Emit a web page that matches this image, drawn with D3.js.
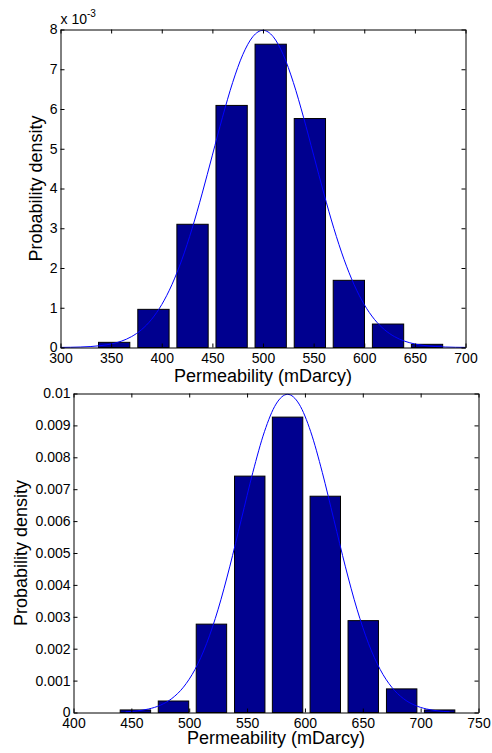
<!DOCTYPE html>
<html><head><meta charset="utf-8">
<script src="https://cdn.jsdelivr.net/npm/d3@7"></script>
<style>
body{margin:0;background:#fff;}
svg text{font-family:Arial,"Liberation Sans",Helvetica,sans-serif;fill:#000;}
</style>
</head><body>
<svg id="chart" width="492" height="753"></svg>
<script>
// ---------- Panel 1 data ----------
const binCenters1 = [353, 391.8, 430.4, 469, 507.6, 546.3, 584.8, 623.5, 662];
const density1 = [0.00013, 0.00096, 0.00310, 0.00609, 0.00763, 0.00576, 0.00169, 0.00059, 0.00008];
const curveX1 = [300,310,320,330,340,350,360,370,380,390,400,410,420,430,440,450,460,470,480,490,500,
                 510,520,530,540,550,560,570,580,590,600,610,620,630,640,650,660,670,680,690,700];
const curveY1 = [0.0000027,0.0000058,0.0000122,0.0000246,0.0000477,0.0000886,0.0001583,0.0002717,0.0004479,0.0007095,0.001080,
                 0.001579,0.002218,0.002995,0.003884,0.004839,0.005794,0.006665,0.007366,0.007821,0.007979,
                 0.007821,0.007366,0.006665,0.005794,0.004839,0.003884,0.002995,0.002218,0.001579,0.001080,
                 0.0007095,0.0004479,0.0002717,0.0001583,0.0000886,0.0000477,0.0000246,0.0000122,0.0000058,0.0000027];
const xTicks1 = [300,350,400,450,500,550,600,650,700];
const yTicks1 = [0,0.001,0.002,0.003,0.004,0.005,0.006,0.007,0.008];

// ---------- Panel 2 data ----------
const binCenters2 = [453.5, 486.4, 519.2, 552.3, 585, 617.6, 650.4, 683.6, 716.4];
const density2 = [0.00008, 0.00036, 0.00277, 0.00741, 0.00926, 0.00678, 0.00288, 0.00074, 0.00008];
const curveX2 = [445,455,465,475,485,495,505,515,525,535,545,555,565,575,585,
                 595,605,615,625,635,645,655,665,675,685,695,705,715,725];
const curveY2 = [0.0000218,0.0000507,0.0001108,0.0002273,0.0004383,0.0007937,0.001350,0.002158,0.003239,0.004566,0.006049,0.007528,0.008802,0.009667,0.009974,
                 0.009667,0.008802,0.007528,0.006049,0.004566,0.003239,0.002158,0.001350,0.0007937,0.0004383,0.0002273,0.0001108,0.0000507,0.0000218];
const xTicks2 = [400,450,500,550,600,650,700,750];
const yTicks2 = [0,0.001,0.002,0.003,0.004,0.005,0.006,0.007,0.008,0.009,0.01];

const xLabel = "Permeability (mDarcy)";
const yLabel = "Probability density";

const svg = d3.select("#chart");
svg.append("rect").attr("width",492).attr("height",753).attr("fill","#fff");

function panel(o){
  const x = d3.scaleLinear().domain(o.xDomain).range([o.left, o.right]);
  const y = d3.scaleLinear().domain(o.yDomain).range([o.bottom, o.top]);
  const g = svg.append("g");
  const step = (o.centers[o.centers.length-1]-o.centers[0])/(o.centers.length-1);
  const bw = step*0.8;

  g.selectAll("rect.bar").data(o.centers.map((c,i)=>({c, v:o.values[i]})))
    .enter().append("rect").attr("class","bar")
    .attr("x", d=>x(d.c-bw/2)).attr("width", d=>x(d.c+bw/2)-x(d.c-bw/2))
    .attr("y", d=>y(d.v)).attr("height", d=>y(0)-y(d.v))
    .attr("fill","#00008F").attr("stroke","#000").attr("stroke-width",1);

  const line = d3.line().x(d=>x(d[0])).y(d=>y(d[1])).curve(d3.curveMonotoneX);
  g.append("path").datum(o.cx.map((v,i)=>[v,o.cy[i]]))
    .attr("d", line).attr("fill","none").attr("stroke","#0000FF").attr("stroke-width",1);

  const styleAxis = s => {
    s.attr("font-size",14).attr("font-family",null);
    s.select(".domain").attr("stroke","#000").attr("stroke-width",1);
    s.selectAll(".tick line").attr("stroke","#000");
  };
  g.append("g").attr("transform",`translate(0,${o.bottom})`)
    .call(d3.axisBottom(x).tickValues(o.xTicks).tickSizeInner(-4).tickSizeOuter(0).tickPadding(6).tickFormat(d3.format("d")))
    .call(styleAxis);
  g.append("g").attr("transform",`translate(0,${o.top})`)
    .call(d3.axisTop(x).tickValues(o.xTicks).tickSizeInner(-4).tickSizeOuter(0).tickFormat(""))
    .call(styleAxis);
  g.append("g").attr("transform",`translate(${o.left},0)`)
    .call(d3.axisLeft(y).tickValues(o.yTicks).tickSizeInner(-4).tickSizeOuter(0).tickPadding(3).tickFormat(o.yFormat))
    .call(styleAxis);
  g.append("g").attr("transform",`translate(${o.right},0)`)
    .call(d3.axisRight(y).tickValues(o.yTicks).tickSizeInner(-4).tickSizeOuter(0).tickFormat(""))
    .call(styleAxis);

  g.append("text").attr("x",(o.left+o.right)/2).attr("y",o.xLabelY)
    .attr("text-anchor","middle").attr("font-size",18).text(xLabel);
  g.append("text").attr("transform",`translate(${o.yLabelX},${(o.top+o.bottom)/2}) rotate(-90)`)
    .attr("text-anchor","middle").attr("font-size",18).text(yLabel);
  return {x,y,g};
}

const p1 = panel({
  xDomain:[300,700], yDomain:[0,0.008], left:60.5, right:465.5, top:29.5, bottom:347.5,
  centers:binCenters1, values:density1, cx:curveX1, cy:curveY1,
  xTicks:xTicks1, yTicks:yTicks1, yFormat:d=>String(Math.round(d*1000)),
  xLabelY:382, yLabelX:42
});
const exp = p1.g.append("text").attr("x",60.5).attr("y",24).attr("font-size",14);
exp.append("tspan").text("x 10");
exp.append("tspan").attr("dy",-7).attr("font-size",10).text("-3");

panel({
  xDomain:[400,750], yDomain:[0,0.01], left:73.5, right:478.5, top:393.5, bottom:712.5,
  centers:binCenters2, values:density2, cx:curveX2, cy:curveY2,
  xTicks:xTicks2, yTicks:yTicks2, yFormat:d=>String(+d.toFixed(3)),
  xLabelY:744, yLabelX:27
});
</script>
</body></html>
